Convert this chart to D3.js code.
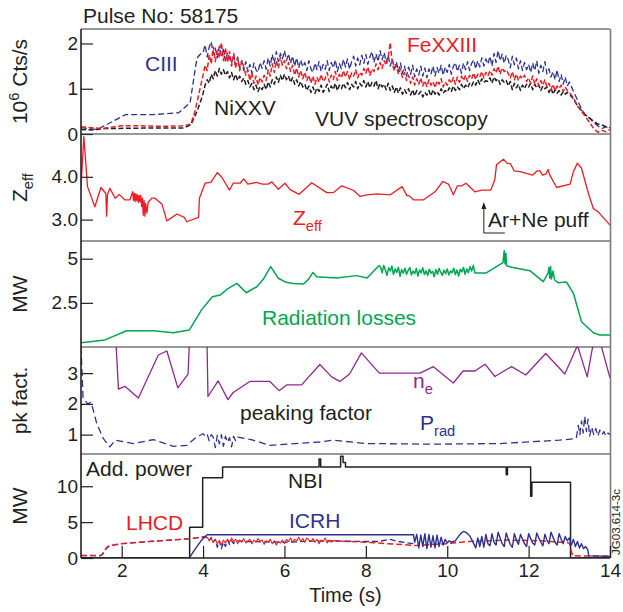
<!DOCTYPE html>
<html>
<head>
<meta charset="utf-8">
<script src="https://cdn.jsdelivr.net/npm/d3@7"></script>
<style>
  html, body { margin: 0; padding: 0; background: #fff; }
  svg { display: block; font-family: "Liberation Sans", Arial, Helvetica, sans-serif; }
</style>
</head>
<body>
<svg id="chart" width="623" height="612"></svg>
<script>
/* JET pulse 58175: five stacked time traces sharing one time axis. */

// ---- shared time axis ----
var timeDomain = [1, 14];
var timeTicks = [2, 4, 6, 8, 10, 12, 14];
var FAST_STEP = 0.05;

// ---- panel 1: VUV spectroscopy (10^6 Cts/s) ----
var vuvTicks = [0, 1, 2];
var ciiiSlow = [[1.0,0.14],[1.4,0.10],[2.1,0.43],[2.8,0.43],[3.4,0.47],[3.68,0.69],[3.85,1.68],[3.95,1.78]];
var ciiiFast = [ // from 4.00 s, every 0.05 s
  1.80,1.97,1.70,1.92,2.04,1.76,1.90,1.68,1.94,1.74,
  1.87,1.60,1.80,1.68,1.56,1.76,1.50,1.68,1.46,1.62,
  1.40,1.60,1.38,1.54,1.34,1.57,1.42,1.36,1.58,1.45,
  1.62,1.43,1.68,1.50,1.76,1.56,1.82,1.60,1.78,1.66,
  1.84,1.62,1.77,1.56,1.72,1.50,1.68,1.46,1.64,1.48,
  1.58,1.40,1.62,1.44,1.36,1.57,1.42,1.60,1.38,1.54,
  1.43,1.62,1.40,1.58,1.46,1.64,1.38,1.56,1.44,1.65,
  1.48,1.66,1.43,1.60,1.72,1.50,1.68,1.53,1.74,1.56,
  1.76,1.54,1.70,1.82,1.58,1.77,1.60,1.84,1.64,1.80,
  1.58,1.74,1.50,1.66,1.44,1.60,1.38,1.57,1.34,1.50,
  1.28,1.48,1.32,1.52,1.26,1.44,1.30,1.50,1.28,1.46,
  1.24,1.44,1.32,1.50,1.28,1.47,1.34,1.52,1.30,1.48,
  1.36,1.54,1.32,1.49,1.58,1.38,1.52,1.34,1.57,1.42,
  1.60,1.40,1.56,1.64,1.44,1.62,1.48,1.68,1.50,1.66,
  1.54,1.72,1.50,1.78,1.58,1.84,1.62,1.77,1.56,1.74,
  1.64,1.46,1.72,1.53,1.68,1.44,1.62,1.40,1.58,1.42,
  1.54,1.36,1.57,1.40,1.62,1.34,1.52,1.38,1.60,1.33,
  1.44,1.26,1.38,1.20,1.42,1.16,1.32,1.10,1.26,1.06,
  1.15];
var ciiiTail = [[13.1,0.95],[13.2,0.75],[13.3,0.55],[13.4,0.40],[13.5,0.35],[13.6,0.25],[13.7,0.18],[13.8,0.12],[13.9,0.16],[14.0,0.12]];

var fexxiiiSlow = [[1.0,0.16],[1.5,0.12],[2.0,0.18],[2.5,0.18],[3.0,0.17],[3.5,0.18],[3.7,0.22],[3.8,0.50],[3.9,0.90],[3.95,1.10]];
var fexxiiiFast = [
  1.30,1.52,1.40,1.75,1.55,1.92,1.60,1.85,1.68,2.02,
  1.62,1.90,1.58,1.82,1.50,1.78,1.46,1.70,1.40,1.62,
  1.48,1.30,1.42,1.18,1.36,1.12,1.28,1.08,1.25,1.15,
  1.30,1.18,1.42,1.28,1.55,1.36,1.62,1.45,1.70,1.52,
  1.62,1.44,1.58,1.38,1.52,1.30,1.46,1.26,1.40,1.22,
  1.36,1.18,1.30,1.12,1.28,1.10,1.25,1.14,1.32,1.16,
  1.22,1.36,1.15,1.30,1.20,1.38,1.18,1.32,1.24,1.40,
  1.26,1.38,1.20,1.35,1.28,1.42,1.24,1.36,1.30,1.45,
  1.34,1.48,1.30,1.44,1.38,1.55,1.42,1.58,1.45,1.62,
  1.52,1.70,2.02,1.55,1.40,1.52,1.32,1.44,1.25,1.36,
  1.18,1.30,1.12,1.26,1.08,1.22,1.10,1.24,1.06,1.18,
  1.05,1.20,1.08,1.16,1.02,1.18,1.10,1.22,1.04,1.15,
  1.08,1.20,1.12,1.25,1.10,1.26,1.14,1.28,1.18,1.30,
  1.16,1.30,1.22,1.35,1.20,1.32,1.26,1.38,1.24,1.36,
  1.28,1.40,1.30,1.44,1.35,1.50,1.32,1.46,1.38,1.42,
  1.34,1.24,1.38,1.20,1.32,1.18,1.28,1.22,1.30,1.16,
  1.24,1.12,1.28,1.10,1.22,1.06,1.18,1.08,1.20,1.04,
  1.12,0.98,1.10,0.96,1.06,1.00,1.08,0.94,1.04,0.96,
  0.92];
var fexxiiiTail = [[13.1,0.80],[13.2,0.62],[13.3,0.50],[13.4,0.38],[13.5,0.25],[13.6,0.12],[13.7,0.04],[13.8,0.08],[13.9,0.05],[14.0,0.10]];

var nixxvSlow = [[1.0,0.10],[1.3,0.09],[1.6,0.12],[2.5,0.13],[3.0,0.13],[3.5,0.13],[3.7,0.20],[3.85,0.50],[3.95,0.75]];
var nixxvFast = [
  0.90,1.08,1.20,1.12,1.32,1.22,1.40,1.28,1.45,1.32,
  1.42,1.30,1.38,1.24,1.36,1.20,1.32,1.18,1.28,1.16,
  1.24,1.10,1.18,1.04,1.12,0.98,1.08,0.94,1.05,0.98,
  1.10,0.98,1.15,1.04,1.20,1.10,1.26,1.14,1.30,1.18,
  1.32,1.20,1.28,1.14,1.25,1.10,1.20,1.06,1.16,1.04,
  1.10,0.96,1.06,0.92,1.04,0.90,1.02,0.94,1.08,0.92,
  1.00,1.10,0.94,1.06,0.98,1.12,0.96,1.08,1.00,1.12,
  1.02,1.14,0.98,1.10,1.04,1.16,1.00,1.12,1.06,1.18,
  1.04,1.16,1.02,1.14,1.06,1.18,1.00,1.12,1.04,1.10,
  0.98,1.12,0.96,1.06,0.92,1.04,0.90,1.02,0.88,0.98,
  0.90,1.00,0.86,0.98,0.84,0.96,0.88,0.94,0.82,0.92,
  0.86,0.96,0.84,0.98,0.88,0.94,0.86,1.00,0.90,0.96,
  0.92,1.02,0.94,1.06,0.96,1.04,0.98,1.10,1.00,1.08,
  1.02,1.12,1.06,1.16,1.08,1.20,1.10,1.22,1.14,1.18,
  1.16,1.24,1.12,1.26,1.18,1.22,1.10,1.20,1.14,1.18,
  1.06,1.16,0.98,1.12,1.02,1.10,0.96,1.08,1.00,1.10,
  1.04,1.12,0.98,1.10,1.02,1.08,0.96,1.06,1.00,1.04,
  0.92,1.02,0.88,0.98,0.90,0.96,0.86,0.94,0.88,0.92,
  0.88];
var nixxvTail = [[13.1,0.78],[13.2,0.62],[13.3,0.52],[13.4,0.42],[13.5,0.35],[13.6,0.28],[13.7,0.22],[13.8,0.20],[13.9,0.16],[14.0,0.14]];

// ---- panel 2: Zeff ----
var zeffTicks = [3.0, 4.0];
var zeff = [[1.0,3.77],[1.07,4.94],[1.16,3.77],[1.34,3.30],[1.49,3.75],[1.61,3.61],[1.63,3.08],[1.65,3.58],
  [1.71,3.73],[1.84,3.50],[1.94,3.59],[2.08,3.46],[2.20,3.46],[2.27,3.65],[2.29,3.45],[2.31,3.62],[2.33,3.42],
  [2.35,3.60],[2.37,3.44],[2.39,3.58],[2.41,3.40],[2.43,3.56],[2.45,3.42],[2.47,3.57],[2.49,3.30],[2.51,3.50],
  [2.53,3.10],[2.55,3.45],[2.57,3.08],[2.59,3.38],[2.62,3.15],[2.65,3.40],[2.74,3.50],[2.82,3.50],[2.99,3.36],
  [3.11,2.97],[3.36,3.13],[3.54,3.05],[3.60,2.95],[3.89,3.05],[3.91,3.50],[4.05,3.85],[4.19,3.87],[4.35,4.10],
  [4.46,3.99],[4.65,3.69],[4.74,3.85],[4.91,3.85],[5.00,3.95],[5.10,3.83],[5.32,3.87],[5.45,3.83],[5.60,3.83],
  [5.69,3.88],[5.85,3.71],[6.01,3.85],[6.14,3.70],[6.36,3.59],[6.67,3.86],[7.04,3.63],[7.20,3.63],[7.41,3.79],
  [7.70,3.68],[7.86,3.54],[8.03,3.58],[8.27,3.60],[8.60,3.58],[8.89,3.77],[9.01,3.56],[9.06,3.56],[9.18,3.46],
  [9.41,3.46],[9.70,3.65],[9.89,3.89],[10.03,3.83],[10.15,3.58],[10.25,3.79],[10.36,3.79],[10.46,3.85],
  [10.68,3.65],[10.85,3.69],[11.07,3.69],[11.17,3.93],[11.21,4.28],[11.38,4.41],[11.47,4.32],[11.56,4.30],
  [11.64,4.14],[11.79,4.12],[12.10,4.04],[12.21,4.14],[12.28,4.14],[12.34,4.04],[12.42,4.06],[12.48,4.17],
  [12.52,4.04],[12.69,3.75],[13.02,3.83],[13.10,4.12],[13.20,4.32],[13.30,4.20],[13.47,3.61],[13.59,3.26],
  [13.71,3.18],[14.0,2.87]];
var puffTime = 10.9;

// ---- panel 3: radiation losses (MW) ----
var radTicks = [2.5, 5];
var radSlow = [[1.0,0.24],[1.59,0.40],[2.12,0.92],[2.78,0.92],[3.27,0.81],[3.66,0.96],[3.97,2.13],[4.23,2.85],
  [4.42,2.94],[4.59,3.27],[4.83,3.60],[5.06,3.07],[5.32,3.41],[5.48,3.83],[5.66,4.55],[5.85,3.89],[6.04,3.66],
  [6.22,3.60],[6.47,3.57],[6.59,3.83],[6.70,4.22],[6.79,3.98],[7.28,3.90],[7.77,4.04],[8.03,3.90],[8.32,4.60]];
var radFastStart = 8.36, radFastStep = 0.04;
var radFast = [
  4.55,4.20,4.62,4.35,4.05,4.48,4.30,4.58,4.10,4.42,
  4.22,4.52,4.00,4.38,4.18,4.46,4.12,4.34,4.50,4.08,
  4.30,4.15,4.44,4.02,4.36,4.20,4.48,4.10,4.32,4.05,
  4.40,4.18,4.28,3.98,4.38,4.12,4.45,4.22,4.06,4.35,
  4.15,4.42,4.08,4.30,4.20,4.46,4.10,4.36,4.02,4.40,
  4.25,4.50,4.12,4.42,4.20,4.55,4.30,4.62];
var radLate = [[10.68,4.19],[10.96,4.19],[11.37,4.77],[11.40,5.45],[11.42,4.70],[11.44,5.30],[11.46,4.60],
  [11.58,4.51],[12.03,4.32],[12.36,3.70],[12.48,4.20],[12.50,4.50],[12.52,3.90],[12.54,4.55],[12.56,3.85],
  [12.60,4.30],[12.64,3.79],[12.72,3.64],[12.93,3.68],[13.10,3.04],[13.30,1.43],[13.59,0.81],[13.75,0.68],[14.0,0.68]];

// ---- panel 4: peaking factors ----
var pkTicks = [1, 2, 3];
var neProfile = [[1.84,4.5],[1.92,2.48],[2.08,2.57],[2.41,2.19],[2.90,3.59],[3.11,3.72],[3.38,2.52],[3.63,2.97],
  [3.68,4.5],[4.09,4.5],[4.12,2.24],[4.37,2.75],[4.61,2.14],[4.74,2.37],[5.15,2.73],[5.64,2.73],[5.87,2.43],
  [6.06,2.62],[6.42,2.62],[6.87,3.28],[7.16,2.88],[7.36,2.73],[7.60,2.97],[7.89,3.66],[8.33,3.00],[9.33,3.00],
  [9.66,3.21],[10.15,2.68],[10.39,3.07],[10.68,3.07],[10.93,3.29],[11.17,2.89],[11.58,3.21],[11.93,2.94],
  [12.42,3.64],[12.89,2.97],[13.20,3.90],[13.44,2.88],[13.62,4.2],[13.72,4.2],[14.0,2.84]];
var pradProfile = [[1.0,3.85],[1.05,2.21],[1.16,2.00],[1.25,2.05],[1.39,1.35],[1.55,0.87],[1.71,0.60],[1.84,0.82],
  [2.29,0.71],[2.78,0.84],[3.27,0.62],[3.60,0.65],[3.84,0.92],[4.00,1.03],[4.05,0.95],[4.10,1.02],[4.15,0.80],
  [4.20,1.00],[4.25,0.92],[4.30,0.58],[4.35,0.98],[4.40,0.70],[4.45,1.00],[4.50,0.62],[4.55,0.95],[4.60,0.75],
  [4.65,0.90],[4.70,0.60],[4.75,0.95],[4.80,0.80],[4.85,0.92],[5.23,0.82],[5.64,0.65],[6.87,0.76],[7.19,0.82],
  [8.02,0.71],[9.66,0.69],[11.30,0.71],[12.75,0.82],[13.17,0.87],[13.22,1.30],[13.26,1.00],[13.30,1.45],
  [13.34,1.05],[13.38,1.60],[13.42,1.10],[13.46,1.50],[13.50,0.95],[13.55,1.25],[13.60,1.00],[13.65,1.20],
  [13.70,0.95],[13.75,1.15],[13.80,1.00],[13.85,1.10],[13.90,0.95],[13.95,1.05],[14.0,1.00]];

// ---- panel 5: additional power (MW) ----
var powTicks = [0, 5, 10];
var nbi = [[1.0,0],[3.67,0],[3.67,4.3],[3.99,4.3],[3.99,11.2],[4.48,11.2],[4.48,12.7],[6.85,12.7],[6.85,13.8],
  [6.89,13.8],[6.89,12.7],[7.38,12.7],[7.38,14.2],[7.44,14.2],[7.44,13.3],[7.50,13.3],[7.50,12.7],[11.45,12.7],
  [11.45,11.6],[11.48,11.6],[11.48,12.7],[12.05,12.7],[12.05,8.6],[12.08,8.6],[12.08,10.55],[13.03,10.55],
  [13.03,0],[14.0,0]];
var icrhRequest = [[1.0,0],[3.66,0],[3.80,1.2],[3.95,2.4],[4.10,3.25],[9.17,3.25],[9.20,2.2]];
var icrhFastStart = 9.2;
var icrhFast = [
  2.2,3.3,1.4,3.2,1.6,3.4,1.3,3.3,1.5,3.1,
  1.4,3.2,1.6,2.9,1.8,2.6,2.1,2.4,2.2,2.3,
  2.4,2.8,3.2,3.5,3.7,3.6,3.4,3.1,2.6,2.0,
  1.4,2.8,1.6,3.0,1.5,3.3,2.0,1.7,3.4,2.2,
  1.8,3.6,2.8,2.0,1.6,3.5,2.6,1.9,1.5,3.4,
  2.5,1.9,3.3,2.6,2.0,1.6,3.4,2.7,2.1,1.8,
  3.5,2.8,2.2,1.7,3.3,2.5,2.0,3.6,2.9,2.2,
  1.8,3.4,2.6,2.0,3.0,2.4,2.8,1.8,2.6,1.6,
  2.3,1.4,2.0,1.3,1.6,1.2];
var icrhEnd = [[13.48,0.3],[14.0,0.25]];
var icrhCoupled = [[1.0,0.35],[1.5,0.35],[1.6,1.2],[1.7,1.7],[1.96,1.95],[2.7,2.3],[3.68,2.68],[4.05,3.0],
  [4.10,2.8],[4.15,2.4],[4.20,2.9],[4.25,2.2],[4.30,2.6],[4.35,1.5],[4.40,2.4],[4.45,1.3],[4.50,2.2],[4.55,1.6],
  [4.60,2.5],[4.65,1.9],[4.70,2.4],[4.75,2.0],[4.80,2.4],[5.0,2.3],[6.0,2.2],[7.0,2.4],[8.0,2.3],[8.3,2.3],
  [8.6,2.6],[8.8,2.3],[9.17,2.0]];
var lhcdRamp = [[1.0,0.32],[1.47,0.32],[1.55,0.6],[1.63,1.5],[1.70,1.75],[1.96,2.0],[2.7,2.32],[3.68,2.7],[4.05,2.95],[4.10,2.9]];
var lhcdFastStart = 4.1;
var lhcdFast = [
  2.9,2.5,2.7,2.2,2.6,2.0,2.4,1.8,2.5,2.1,
  2.6,2.2,2.8,2.3,2.6,2.0,2.5,2.2,2.7,2.1,
  2.4,2.6,2.0,2.5,2.2,2.7,2.3,2.5,1.9,2.4,
  2.2,2.6,2.0,2.4,1.8,2.3,2.1,2.5,2.0,2.6,
  2.3,2.8,2.2,2.6,2.4,2.9,2.3,2.7,2.2,2.8,
  2.5,2.3,2.7,2.2,2.6,2.0,2.5,2.3,2.8,2.1,
  2.5,2.2,2.4];
var lhcdLate = [[7.2,2.4],[8.0,2.2],[9.2,1.75],[10.0,2.0],[10.5,2.3],[11.5,2.5],[12.3,2.4],[13.0,2.1],[13.08,0.3],[14.0,0.25]];

// ---- drawing ----
var C = { blue: "#2e3192", red: "#ed1c24", ink: "#231f20", green: "#00a651", purple: "#92278f", frame: "#333" };
var L = 81, R = 610;
var panels = [
  { top: 29,  bottom: 134, domain: [0, 2.32],    ticks: vuvTicks,  fmt: d3.format("d") },
  { top: 134, bottom: 241, domain: [2.5, 5],     ticks: zeffTicks, fmt: d3.format(".1f") },
  { top: 241, bottom: 347, domain: [0, 6],       ticks: radTicks,  fmt: function (d) { return String(d); } },
  { top: 347, bottom: 454, domain: [0.37, 3.85], ticks: pkTicks,   fmt: d3.format("d") },
  { top: 454, bottom: 558, domain: [0, 14.5],    ticks: powTicks,  fmt: d3.format("d") }
];

function fast(t0, step, vals) { return vals.map(function (v, i) { return [t0 + i * step, v]; }); }

var svg = d3.select("#chart");
var x = d3.scaleLinear().domain(timeDomain).range([L, R]);

panels.forEach(function (p, i) {
  p.y = d3.scaleLinear().domain(p.domain).range([p.bottom, p.top]);
  svg.append("clipPath").attr("id", "clip" + i).append("rect")
    .attr("x", L).attr("y", p.top).attr("width", R - L).attr("height", p.bottom - p.top);
  p.g = svg.append("g").attr("clip-path", "url(#clip" + i + ")");
  var ax = svg.append("g").attr("transform", "translate(" + L + ",0)")
    .call(d3.axisLeft(p.y).tickValues(p.ticks).tickSize(-12).tickPadding(3).tickFormat(p.fmt));
  ax.select(".domain").remove();
  ax.selectAll("line").attr("stroke", C.ink).attr("stroke-width", 1.2);
  ax.selectAll("text").attr("fill", C.ink).style("font-size", "19px")
    .style("font-family", "'Liberation Sans', Arial, sans-serif");
});

function trace(i, pts, color, opts) {
  opts = opts || {};
  var p = panels[i];
  var line = d3.line().x(function (d) { return x(d[0]); }).y(function (d) { return p.y(d[1]); });
  p.g.append("path").attr("d", line(pts)).attr("fill", "none")
    .attr("stroke", color).attr("stroke-width", opts.w || 1.3)
    .attr("stroke-dasharray", opts.dash || null)
    .attr("stroke-linejoin", "round");
}

// panel 1
trace(0, ciiiSlow.concat(fast(4.0, FAST_STEP, ciiiFast), ciiiTail), C.blue, { dash: "6,3" });
trace(0, nixxvSlow.concat(fast(4.0, FAST_STEP, nixxvFast), nixxvTail), C.ink, { dash: "5,2.5", w: 1.5 });
trace(0, fexxiiiSlow.concat(fast(4.0, FAST_STEP, fexxiiiFast), fexxiiiTail), C.red, { dash: "5,2.5", w: 1.5 });
// panel 2
trace(1, zeff, C.red, { w: 1.3 });
// panel 3
trace(2, radSlow.concat(fast(radFastStart, radFastStep, radFast), radLate), C.green, { w: 1.5 });
// panel 4
trace(3, neProfile, C.purple, { w: 1.3 });
trace(3, pradProfile, C.blue, { dash: "7,4", w: 1.3 });
// panel 5
trace(4, nbi, C.ink, { w: 1.5 });
trace(4, icrhCoupled, C.blue, { dash: "6,3", w: 1.3 });
trace(4, lhcdRamp, C.red, { dash: "6,3", w: 1.3 });
trace(4, fast(lhcdFastStart, FAST_STEP, lhcdFast), C.red, { w: 1.1 });
trace(4, lhcdLate, C.red, { dash: "6,3", w: 1.5 });
trace(4, icrhRequest.concat(fast(icrhFastStart, FAST_STEP, icrhFast), icrhEnd), C.blue, { w: 1.4 });

// frame: panel separators, left axis, right border
panels.forEach(function (p) {
  svg.append("line").attr("x1", L).attr("x2", R).attr("y1", p.top).attr("y2", p.top)
    .attr("stroke", C.frame).attr("stroke-width", 1.2);
});
svg.append("line").attr("x1", L).attr("x2", R).attr("y1", 558).attr("y2", 558)
  .attr("stroke", C.ink).attr("stroke-width", 1.4);
svg.append("line").attr("x1", R + 0.5).attr("x2", R + 0.5).attr("y1", 29).attr("y2", 558)
  .attr("stroke", "#7a7a7a").attr("stroke-width", 1.6);
svg.append("line").attr("x1", L).attr("x2", L).attr("y1", 29).attr("y2", 558)
  .attr("stroke", C.ink).attr("stroke-width", 1.6);

// time axis
var gx = svg.append("g").attr("transform", "translate(0,558)")
  .call(d3.axisBottom(x).tickValues(timeTicks).tickSize(-12).tickPadding(6).tickFormat(d3.format("d")));
gx.select(".domain").remove();
gx.selectAll("line").attr("stroke", C.ink).attr("stroke-width", 1.2);
gx.selectAll("text").attr("fill", C.ink).style("font-size", "19px")
  .style("font-family", "'Liberation Sans', Arial, sans-serif");
svg.append("text").attr("x", (L + R) / 2).attr("y", 602).attr("text-anchor", "middle")
  .style("font-size", "20px").attr("fill", C.ink).text("Time (s)");

// rich text helper: parts = [[text, "sub"|"sup"]]
function label(xp, yp, parts, color, opts) {
  opts = opts || {};
  var t = svg.append("text").attr("x", xp).attr("y", yp).attr("fill", color)
    .style("font-size", (opts.size || 21) + "px");
  if (opts.anchor) t.attr("text-anchor", opts.anchor);
  if (opts.rotate) t.attr("transform", "rotate(-90," + xp + "," + yp + ")");
  var shift = 0;
  parts.forEach(function (pt) {
    var kind = pt[1] || "";
    var dy = kind === "sub" ? 6 : kind === "sup" ? -8 : 0;
    var s = t.append("tspan").attr("dy", dy - shift).text(pt[0]);
    if (kind) s.style("font-size", "0.7em");
    shift = dy;
  });
  return t;
}

// y titles, centred on each panel
var yTitles = [[["10"], ["6", "sup"], [" Cts/s"]], [["Z"], ["eff", "sub"]], [["MW"]], [["pk fact."]], [["MW"]]];
panels.forEach(function (p, i) {
  label(27, (p.top + p.bottom) / 2, yTitles[i], C.ink, { anchor: "middle", rotate: true });
});

label(83, 23, [["Pulse No: 58175"]], C.ink);
label(145, 71, [["CIII"]], C.blue);
label(214, 115, [["NiXXV"]], C.ink);
label(407, 52, [["FeXXIII"]], C.red);
label(315, 126, [["VUV spectroscopy"]], C.ink);
label(293, 225, [["Z"], ["eff", "sub"]], C.red);
label(488, 227, [["Ar+Ne puff"]], C.ink);
label(262, 325, [["Radiation losses"]], C.green);
label(413, 388, [["n"], ["e", "sub"]], C.purple);
label(240, 420, [["peaking factor"]], C.ink);
label(420, 430, [["P"], ["rad", "sub"]], C.blue);
label(86, 476, [["Add. power"]], C.ink);
label(288, 488, [["NBI"]], C.ink);
label(126, 530, [["LHCD"]], C.red);
label(289, 528, [["ICRH"]], C.blue);
label(620, 522, [["JG03.614-3c"]], C.ink, { size: 11.5, anchor: "middle", rotate: true });

// Ar+Ne puff marker
var px = x(puffTime);
svg.append("path").attr("d", "M" + px + ",233 V207 M" + px + ",233 H" + (px + 21))
  .attr("fill", "none").attr("stroke", C.ink).attr("stroke-width", 1);
svg.append("path").attr("d", "M" + (px - 2.5) + ",209 L" + px + ",202 L" + (px + 2.5) + ",209 Z")
  .attr("fill", C.ink);
</script>
</body>
</html>
